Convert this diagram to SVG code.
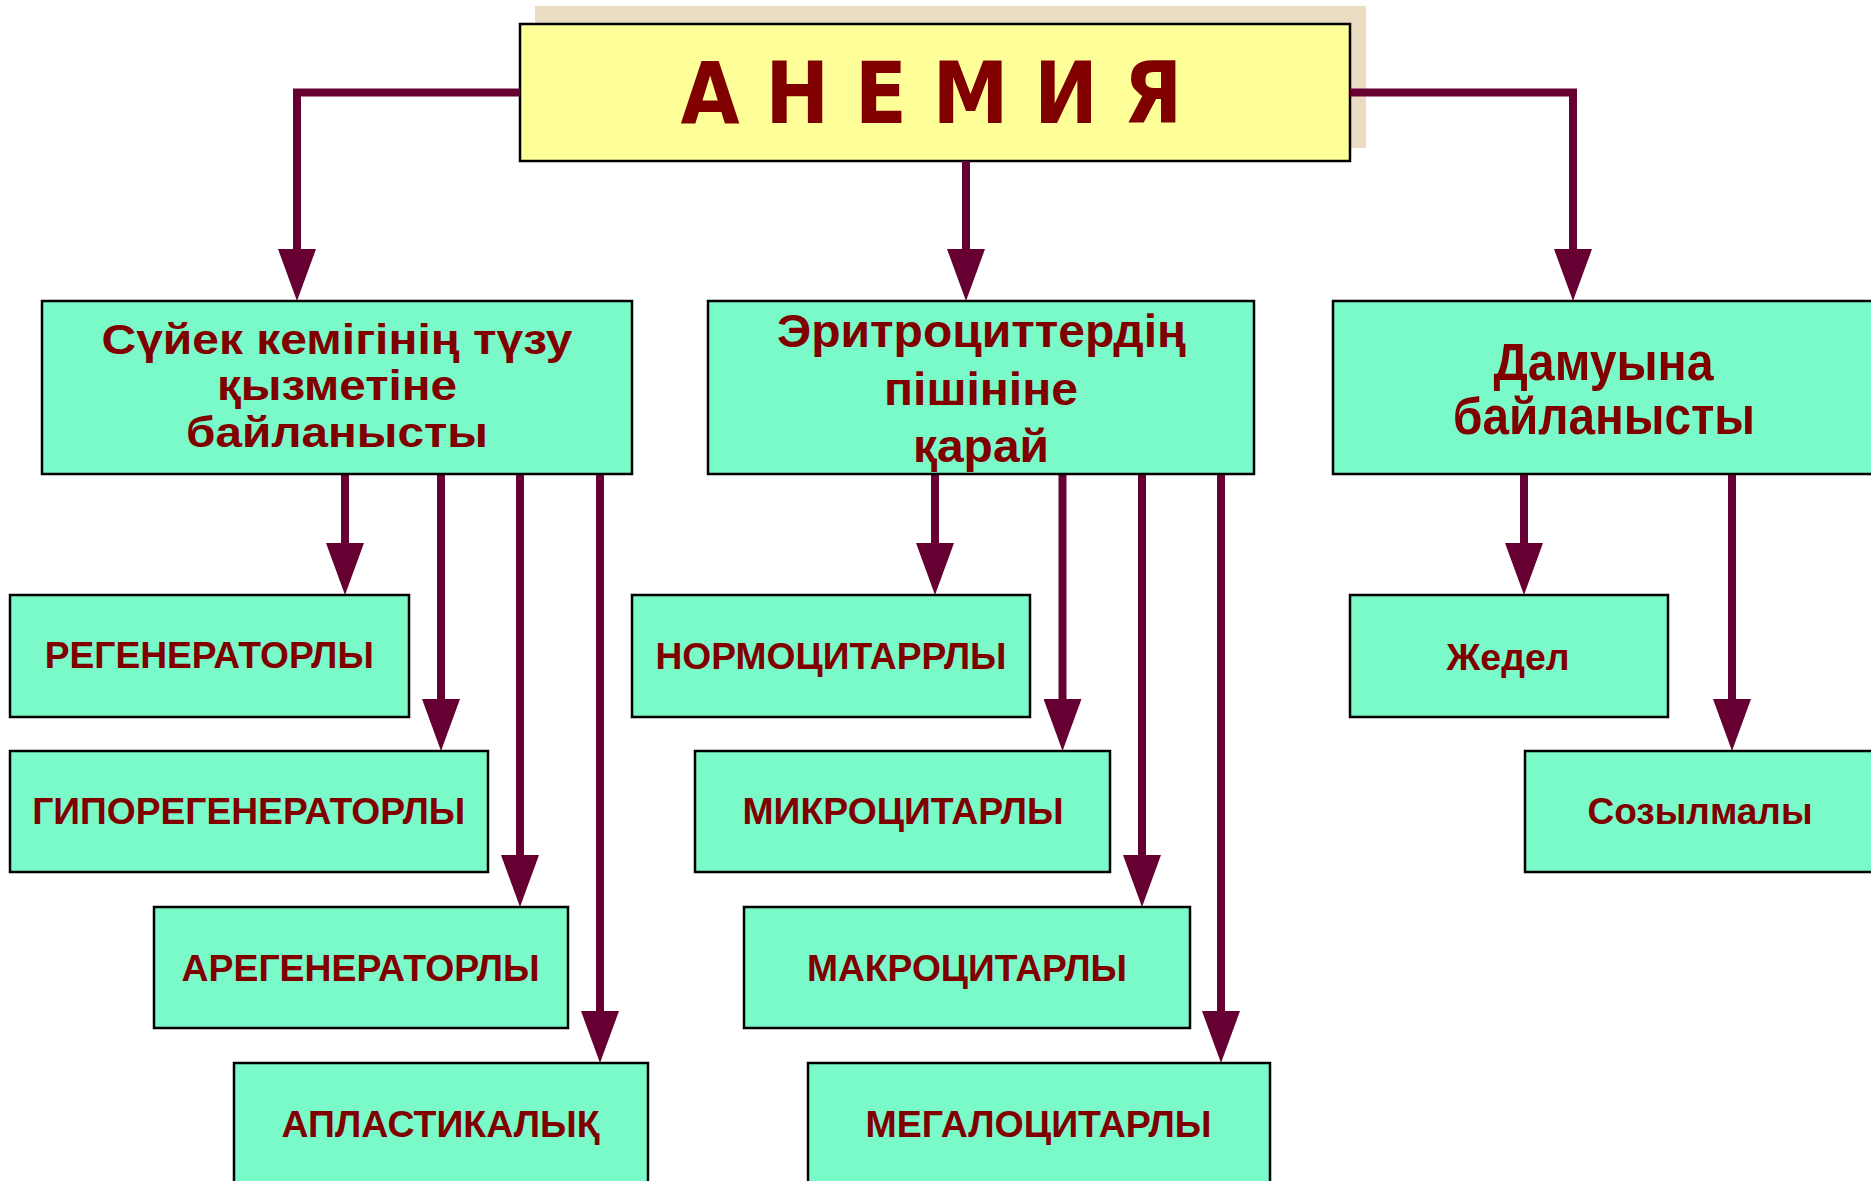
<svg xmlns="http://www.w3.org/2000/svg" width="1871" height="1181" viewBox="0 0 1871 1181">
<style>
.box{fill:#7AFAC9;stroke:#000;stroke-width:2.5}
.t{font-family:"Liberation Sans",Arial,sans-serif;font-weight:bold;fill:#800000;text-anchor:middle}
.leaf{font-size:36px}
.conn{fill:none;stroke:#660033;stroke-width:8;stroke-linejoin:miter;stroke-linecap:butt}
</style>
<defs>
<marker id="ah" markerUnits="userSpaceOnUse" markerWidth="52" markerHeight="38" viewBox="0 0 52 38" refX="1" refY="19" orient="auto">
<path d="M0,0 L52,19 L0,38 z" fill="#660033"/>
</marker>
</defs>
<rect x="0" y="0" width="1871" height="1181" fill="#fff"/>

<g id="title">
<rect x="535" y="6" width="831" height="142" fill="#EADDC4"/>
<rect x="520" y="24" width="830" height="137" fill="#FFFF99" stroke="#000" stroke-width="2.5"/>
<text x="931.5" y="123" font-family="'DejaVu Sans Condensed','DejaVu Sans',sans-serif" font-weight="bold" font-size="85" fill="#800000" text-anchor="middle" textLength="502" lengthAdjust="spacing">А Н Е М И Я</text>
</g>

<g id="connectors">
<path class="conn" d="M520,92.5 H297 V250" marker-end="url(#ah)"/>
<path class="conn" d="M966,161 V250" marker-end="url(#ah)"/>
<path class="conn" d="M1350,92.5 H1573 V250" marker-end="url(#ah)"/>
<path class="conn" d="M345,474 V544" marker-end="url(#ah)"/>
<path class="conn" d="M441,474 V700" marker-end="url(#ah)"/>
<path class="conn" d="M520,474 V856" marker-end="url(#ah)"/>
<path class="conn" d="M600,474 V1012" marker-end="url(#ah)"/>
<path class="conn" d="M935,474 V544" marker-end="url(#ah)"/>
<path class="conn" d="M1062.5,474 V700" marker-end="url(#ah)"/>
<path class="conn" d="M1142,474 V856" marker-end="url(#ah)"/>
<path class="conn" d="M1221,474 V1012" marker-end="url(#ah)"/>
<path class="conn" d="M1524,474 V544" marker-end="url(#ah)"/>
<path class="conn" d="M1732,474 V700" marker-end="url(#ah)"/>
</g>

<g id="n-bone">
<rect class="box" x="42" y="301" width="590" height="173"/>
<text class="t" font-size="43" x="337" y="354" textLength="471" lengthAdjust="spacingAndGlyphs">Сүйек кемігінің түзу</text>
<text class="t" font-size="43" x="337" y="400" textLength="240" lengthAdjust="spacingAndGlyphs">қызметіне</text>
<text class="t" font-size="43" x="337" y="446.5" textLength="302" lengthAdjust="spacingAndGlyphs">байланысты</text>
</g>
<g id="n-shape">
<rect class="box" x="708" y="301" width="546" height="173"/>
<text class="t" font-size="46" x="981.5" y="346.5" textLength="409" lengthAdjust="spacingAndGlyphs">Эритроциттердің</text>
<text class="t" font-size="46" x="981" y="405" textLength="194" lengthAdjust="spacingAndGlyphs">пішініне</text>
<text class="t" font-size="46" x="981" y="461.5" textLength="136" lengthAdjust="spacingAndGlyphs">қарай</text>
</g>
<g id="n-dev">
<rect class="box" x="1333" y="301" width="545" height="173"/>
<text class="t" font-size="51" x="1603.5" y="380" textLength="220" lengthAdjust="spacingAndGlyphs">Дамуына</text>
<text class="t" font-size="51" x="1604" y="434" textLength="302" lengthAdjust="spacingAndGlyphs">байланысты</text>
</g>

<g id="n-regen">
<rect class="box" x="10" y="595" width="399" height="122"/>
<text class="t leaf" x="209.3" y="668" textLength="329" lengthAdjust="spacingAndGlyphs">РЕГЕНЕРАТОРЛЫ</text>
</g>
<g id="n-hyporegen">
<rect class="box" x="10" y="751" width="478" height="121"/>
<text class="t leaf" x="248.7" y="824.3" textLength="433" lengthAdjust="spacingAndGlyphs">ГИПОРЕГЕНЕРАТОРЛЫ</text>
</g>
<g id="n-aregen">
<rect class="box" x="154" y="907" width="414" height="121"/>
<text class="t leaf" x="360.6" y="980.7" textLength="358" lengthAdjust="spacingAndGlyphs">АРЕГЕНЕРАТОРЛЫ</text>
</g>
<g id="n-aplastic">
<rect class="box" x="234" y="1063" width="414" height="130"/>
<text class="t leaf" x="440.5" y="1136.7" textLength="318" lengthAdjust="spacingAndGlyphs">АПЛАСТИКАЛЫҚ</text>
</g>

<g id="n-normo">
<rect class="box" x="632" y="595" width="398" height="122"/>
<text class="t leaf" x="831" y="669" textLength="351" lengthAdjust="spacingAndGlyphs">НОРМОЦИТАРРЛЫ</text>
</g>
<g id="n-micro">
<rect class="box" x="695" y="751" width="415" height="121"/>
<text class="t leaf" x="903" y="824.3" textLength="321" lengthAdjust="spacingAndGlyphs">МИКРОЦИТАРЛЫ</text>
</g>
<g id="n-macro">
<rect class="box" x="744" y="907" width="446" height="121"/>
<text class="t leaf" x="967" y="980.7" textLength="320" lengthAdjust="spacingAndGlyphs">МАКРОЦИТАРЛЫ</text>
</g>
<g id="n-megalo">
<rect class="box" x="808" y="1063" width="462" height="130"/>
<text class="t leaf" x="1038.5" y="1136.7" textLength="346" lengthAdjust="spacingAndGlyphs">МЕГАЛОЦИТАРЛЫ</text>
</g>

<g id="n-acute">
<rect class="box" x="1350" y="595" width="318" height="122"/>
<text class="t leaf" x="1508" y="670" textLength="123" lengthAdjust="spacingAndGlyphs">Жедел</text>
</g>
<g id="n-chronic">
<rect class="box" x="1525" y="751" width="353" height="121"/>
<text class="t leaf" x="1700" y="824" textLength="225" lengthAdjust="spacingAndGlyphs">Созылмалы</text>
</g>
</svg>
